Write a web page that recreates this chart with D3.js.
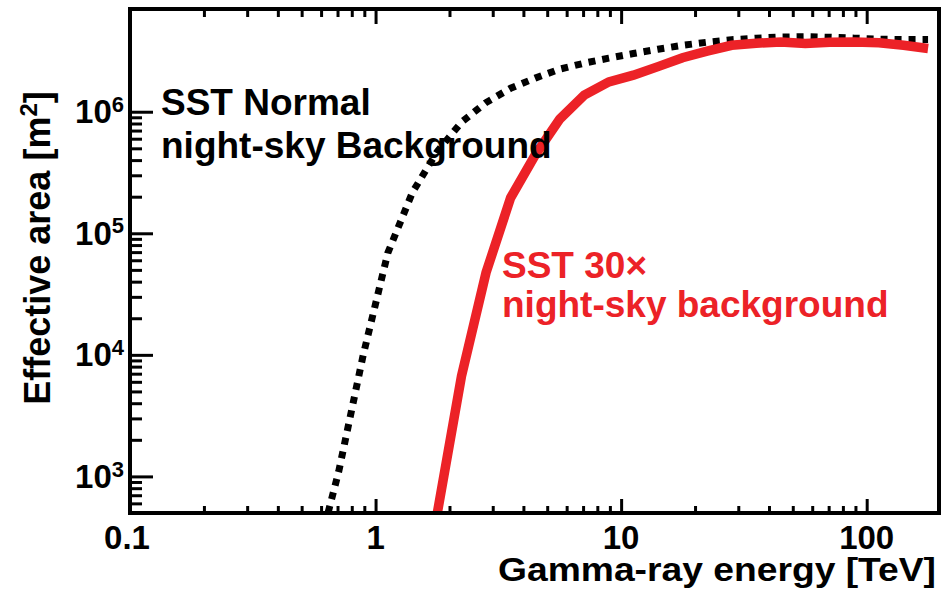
<!DOCTYPE html>
<html>
<head>
<meta charset="utf-8">
<script src="https://cdn.jsdelivr.net/npm/d3@7"></script>
<style>
  html, body { margin: 0; padding: 0; background: #fff; }
  svg { display: block; }
  text { font-family: "Liberation Sans", Arial, Helvetica, sans-serif; font-weight: bold; }
</style>
</head>
<body>
<svg id="chart" width="943" height="594"></svg>
<script>
// ---- Data ----
const energyTeV = [0.562, 0.708, 0.891, 1.122, 1.413, 1.778, 2.239, 2.818, 3.548, 4.467,
                   5.623, 7.079, 8.913, 11.22, 14.13, 17.78, 22.39, 28.18, 35.48, 44.67,
                   56.23, 70.79, 89.13, 112.2, 141.3, 177.8];
const areaNormalNSB = [180, 1100, 1.0e4, 6.9e4, 2.17e5, 4.67e5, 8.2e5, 1.19e6, 1.56e6, 1.89e6,
                       2.24e6, 2.51e6, 2.76e6, 3.01e6, 3.27e6, 3.52e6, 3.73e6, 3.91e6, 4.03e6, 4.12e6,
                       4.14e6, 4.10e6, 4.03e6, 3.95e6, 3.93e6, 3.93e6];
const area30xNSB = [null, null, null, null, null, 480, 6.7e3, 4.75e4, 1.96e5, 4.4e5,
                    8.7e5, 1.37e6, 1.76e6, 2.0e6, 2.35e6, 2.78e6, 3.15e6, 3.52e6, 3.66e6, 3.75e6,
                    3.64e6, 3.73e6, 3.75e6, 3.7e6, 3.52e6, 3.31e6];
const xTickValues = [0.1, 1, 10, 100];
const xTickLabels = ["0.1", "1", "10", "100"];
const yTickValues = [1e3, 1e4, 1e5, 1e6];
const yTickExponents = ["3", "4", "5", "6"];
const xTitle = "Gamma-ray energy [TeV]";
const yTitle = "Effective area [m";
const labelNormal = ["SST Normal", "night-sky Background"];
const label30x = ["SST 30\u00d7", "night-sky background"];

// ---- Layout ----
const svg = d3.select("#chart");
const L = 130, R = 939, T = 9, B = 513;
const x = d3.scaleLog().domain([0.1, 197]).range([L, R]);
const y = d3.scaleLog().domain([500, 7e6]).range([B, T]);
const red = "#ec2227";

svg.append("defs").append("clipPath").attr("id", "plotclip")
  .append("rect").attr("x", L).attr("y", T).attr("width", R - L).attr("height", B - T);

// ---- Curves ----
const pts = (arr) => energyTeV.map((e, i) => [e, arr[i]]);
const line = d3.line()
  .defined(d => d[1] != null)
  .x(d => x(d[0])).y(d => y(d[1]));

const curves = svg.append("g").attr("clip-path", "url(#plotclip)");
curves.append("path")
  .datum(pts(areaNormalNSB))
  .attr("d", line)
  .attr("fill", "none")
  .attr("stroke", "#000")
  .attr("stroke-width", 7)
  .attr("stroke-dasharray", "7,7")
  .attr("stroke-linejoin", "miter");
curves.append("path")
  .datum(pts(area30xNSB))
  .attr("d", line)
  .attr("fill", "none")
  .attr("stroke", red)
  .attr("stroke-width", 9.5)
  .attr("stroke-linejoin", "miter");

// ---- Axes (ticks) ----
const xMinor = x.ticks().filter(v => !xTickValues.some(m => Math.abs(Math.log10(v) - Math.log10(m)) < 1e-6));
const yMinor = y.ticks().filter(v => v <= 1e6 && !yTickValues.some(m => Math.abs(Math.log10(v) - Math.log10(m)) < 1e-6));

const axisStyle = g => { g.select(".domain").remove(); g.selectAll("line").attr("stroke", "#000").attr("stroke-width", 3); g.selectAll("text").remove(); };

// bottom axis: ticks point up
svg.append("g").attr("transform", `translate(0,${B})`)
  .call(d3.axisBottom(x).tickValues(xTickValues.filter(v => v > 0.1)).tickSizeInner(-14).tickSizeOuter(0)).call(axisStyle);
svg.append("g").attr("transform", `translate(0,${B})`)
  .call(d3.axisBottom(x).tickValues(xMinor).tickSizeInner(-7).tickSizeOuter(0)).call(axisStyle);
// top axis: ticks point down
svg.append("g").attr("transform", `translate(0,${T})`)
  .call(d3.axisTop(x).tickValues(xTickValues.filter(v => v > 0.1)).tickSizeInner(-15).tickSizeOuter(0)).call(axisStyle);
svg.append("g").attr("transform", `translate(0,${T})`)
  .call(d3.axisTop(x).tickValues(xMinor).tickSizeInner(-8).tickSizeOuter(0)).call(axisStyle);
// left axis: ticks point right
svg.append("g").attr("transform", `translate(${L},0)`)
  .call(d3.axisLeft(y).tickValues(yTickValues).tickSizeInner(-23).tickSizeOuter(0)).call(axisStyle);
svg.append("g").attr("transform", `translate(${L},0)`)
  .call(d3.axisLeft(y).tickValues(yMinor).tickSizeInner(-12).tickSizeOuter(0)).call(axisStyle);

// frame
svg.append("rect").attr("x", L).attr("y", T).attr("width", R - L).attr("height", B - T)
  .attr("fill", "none").attr("stroke", "#000").attr("stroke-width", 4);

// ---- Tick labels ----
svg.append("g").selectAll("text").data(xTickValues).join("text")
  .attr("x", d => x(d) - (d === 0.1 ? 3 : 0))
  .attr("y", 549)
  .attr("text-anchor", "middle")
  .attr("font-size", 33)
  .attr("fill", "#000")
  .text((d, i) => xTickLabels[i]);

const yl = svg.append("g").selectAll("text").data(yTickValues).join("text")
  .attr("x", 124)
  .attr("y", d => y(d) + 11.6)
  .attr("text-anchor", "end")
  .attr("font-size", 33)
  .attr("fill", "#000");
yl.append("tspan").text("10");
yl.append("tspan").attr("font-size", 22).attr("dy", -11.5).text((d, i) => yTickExponents[i]);

// ---- Axis titles ----
svg.append("text")
  .attr("x", 498).attr("y", 581)
  .attr("font-size", 34)
  .attr("textLength", 438)
  .attr("lengthAdjust", "spacingAndGlyphs")
  .attr("fill", "#000")
  .text(xTitle);

const yt = svg.append("text")
  .attr("transform", "translate(50,248) rotate(-90)")
  .attr("text-anchor", "middle")
  .attr("font-size", 36)
  .attr("fill", "#000");
yt.append("tspan").text(yTitle);
yt.append("tspan").attr("font-size", 24).attr("dy", -13).text("2");
yt.append("tspan").attr("dy", 13).text("]");

// ---- Annotations ----
svg.append("g").selectAll("text").data(labelNormal).join("text")
  .attr("x", 161).attr("y", (d, i) => 115 + i * 43)
  .attr("font-size", 37).attr("fill", "#000")
  .text(d => d);
svg.append("g").selectAll("text").data(label30x).join("text")
  .attr("x", 502).attr("y", (d, i) => 278 + i * 39)
  .attr("font-size", 37).attr("fill", red)
  .text(d => d);
</script>
</body>
</html>
